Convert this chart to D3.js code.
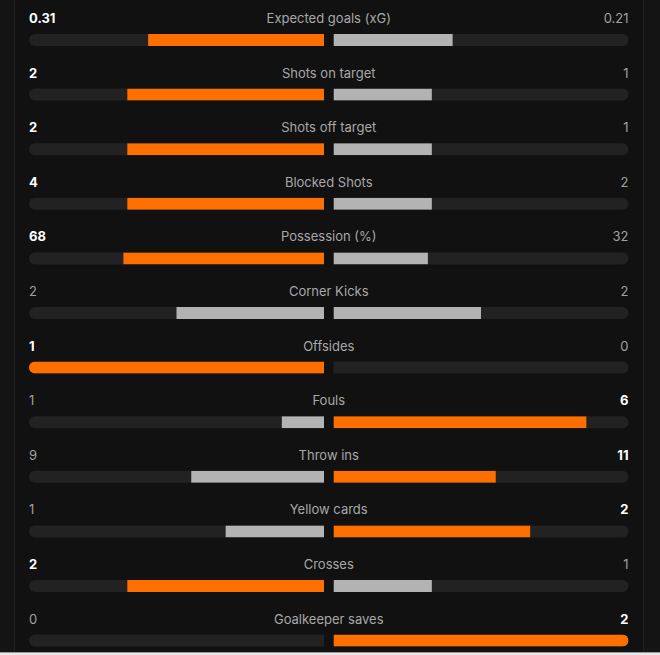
<!DOCTYPE html>
<html>
<head>
<meta charset="utf-8">
<script src="https://cdn.jsdelivr.net/npm/d3@7"></script>
<style>
  html, body { margin: 0; padding: 0; background: #ffffff; }
  svg { display: block; font-family: Inter, "Noto Sans", sans-serif; }
</style>
</head>
<body>
<div id="chart"></div>
<script>
// Match stats, home (left) vs away (right)
const statLabels = ["Expected goals (xG)", "Shots on target", "Shots off target", "Blocked Shots",
  "Possession (%)", "Corner Kicks", "Offsides", "Fouls", "Throw ins", "Yellow cards",
  "Crosses", "Goalkeeper saves"];
const homeValues = [0.31, 2, 2, 4, 68, 2, 1, 1, 9, 1, 2, 0];
const awayValues = [0.21, 1, 1, 2, 32, 2, 0, 6, 11, 2, 1, 2];

const W = 660, H = 655;
const trackLeft = [29, 324], trackRight = [333.5, 628.5];
const trackH = 12;

const svg = d3.select("#chart").append("svg")
  .attr("width", W).attr("height", H);

// panel background and frame
svg.append("rect").attr("width", W).attr("height", H).attr("fill", "#141414");
svg.append("rect").attr("x", 15).attr("y", 0).attr("width", 628).attr("height", 652).attr("fill", "#111111");
svg.append("rect").attr("x", 14).attr("y", 0).attr("width", 1).attr("height", 652).attr("fill", "#202020");
svg.append("rect").attr("x", 643).attr("y", 0).attr("width", 1).attr("height", 652).attr("fill", "#202020");
svg.append("rect").attr("x", 0).attr("y", 652).attr("width", W).attr("height", 1).attr("fill", "#9a9a9a");
svg.append("rect").attr("x", 0).attr("y", 653).attr("width", W).attr("height", 2).attr("fill", "#e8e8e8");

// one row per stat
const y = d3.scaleBand()
  .domain(statLabels)
  .range([6, 6 + 54.6 * statLabels.length]);

const rows = statLabels.map((label, i) => ({ label, home: homeValues[i], away: awayValues[i], i }));

// track shapes, rounded on the outer end only
const r = trackH / 2;
function leftTrackPath(x0, x1, top) {
  return `M${x1},${top} L${x0 + r},${top} A${r},${r} 0 0 0 ${x0 + r},${top + trackH} L${x1},${top + trackH} Z`;
}
function rightTrackPath(x0, x1, top) {
  return `M${x0},${top} L${x1 - r},${top} A${r},${r} 0 0 1 ${x1 - r},${top + trackH} L${x0},${top + trackH} Z`;
}

const defs = svg.append("defs");
const orange = "#ff6f00", gray = "#b3b3b3", track = "#222222";

rows.forEach(d => {
  const top = y(d.label);
  const barTop = top + 28;
  const total = d.home + d.away;
  const sx = d3.scaleLinear().domain([0, total]).range([0, trackLeft[1] - trackLeft[0]]);
  const tie = d.home === d.away;
  const homeWins = d.home > d.away;
  const g = svg.append("g");

  // values and label
  g.append("text")
    .attr("x", trackLeft[0]).attr("y", top + 17)
    .attr("font-size", 13)
    .attr("font-weight", homeWins ? 700 : 400)
    .attr("fill", homeWins ? "#ffffff" : "#a0a0a0")
    .text(d.home);
  g.append("text")
    .attr("x", trackRight[1]).attr("y", top + 17)
    .attr("text-anchor", "end")
    .attr("font-size", 13)
    .attr("font-weight", !tie && !homeWins ? 700 : 400)
    .attr("fill", !tie && !homeWins ? "#ffffff" : "#a0a0a0")
    .text(d.away);
  g.append("text")
    .attr("x", (trackLeft[1] + trackRight[0]) / 2).attr("y", top + 17)
    .attr("text-anchor", "middle")
    .attr("font-size", 13)
    .attr("fill", "#a8a8a8")
    .text(d.label);

  // tracks with clip
  const lp = leftTrackPath(trackLeft[0], trackLeft[1], barTop);
  const rp = rightTrackPath(trackRight[0], trackRight[1], barTop);
  defs.append("clipPath").attr("id", "cl" + d.i).append("path").attr("d", lp);
  defs.append("clipPath").attr("id", "cr" + d.i).append("path").attr("d", rp);
  g.append("path").attr("d", lp).attr("fill", track);
  g.append("path").attr("d", rp).attr("fill", track);

  const wH = sx(d.home), wA = sx(d.away);
  g.append("rect")
    .attr("clip-path", `url(#cl${d.i})`)
    .attr("x", trackLeft[1] - wH).attr("y", barTop)
    .attr("width", wH).attr("height", trackH)
    .attr("fill", homeWins ? orange : gray);
  g.append("rect")
    .attr("clip-path", `url(#cr${d.i})`)
    .attr("x", trackRight[0]).attr("y", barTop)
    .attr("width", wA).attr("height", trackH)
    .attr("fill", !tie && !homeWins ? orange : gray);
});
</script>
</body>
</html>
